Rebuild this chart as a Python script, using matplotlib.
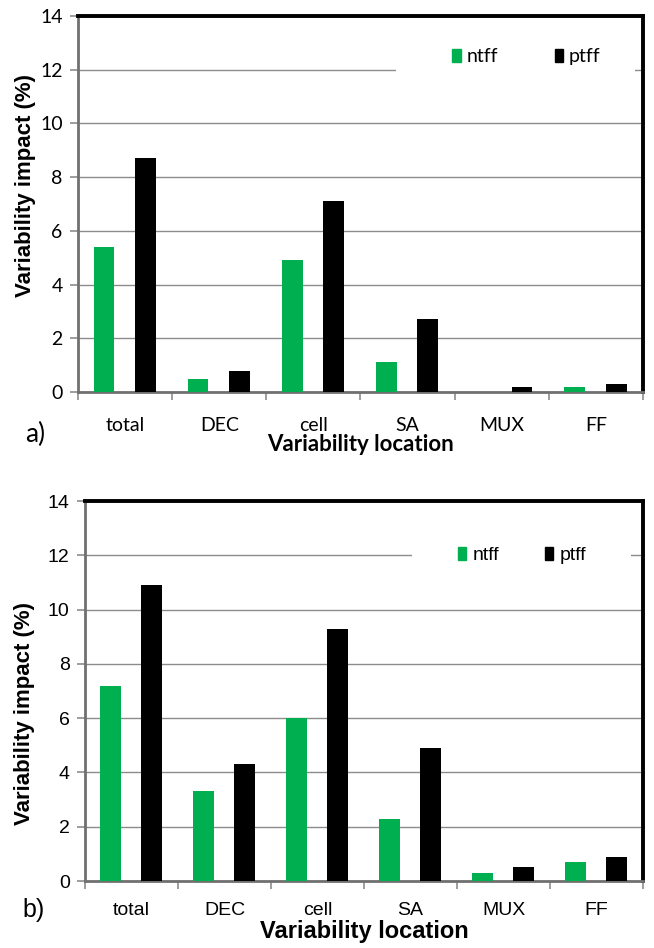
import numpy as np
import matplotlib
matplotlib.use("Agg")
import matplotlib.pyplot as plt
from matplotlib.patches import Patch, Rectangle

# data
categories = ["total", "DEC", "cell", "SA", "MUX", "FF"]
ntff_a = [5.4, 0.5, 4.9, 1.1, 0.0, 0.2]
ptff_a = [8.7, 0.8, 7.1, 2.7, 0.2, 0.3]
ntff_b = [7.2, 3.3, 6.0, 2.3, 0.3, 0.7]
ptff_b = [10.9, 4.3, 9.3, 4.9, 0.5, 0.9]
yticks = [0, 2, 4, 6, 8, 10, 12, 14]

GREEN = "#00b050"
GRID = "#8c8c8c"


def draw_panel(ax, ntff, ptff, font, tag, tick_fs, ylab_fs, xlab_fs, ylab_xy,
               xlab_pad, tick_pad, leg_xy, colspace, mask, tag_xy, tag_fs):
    x = np.arange(len(categories))
    w = 0.22
    ax.bar(x - 0.225, ntff, w, color=GREEN, label="ntff", zorder=3)
    ax.bar(x + 0.215, ptff, w, color="black", label="ptff", zorder=3)

    ax.set_xlim(-0.5, len(categories) - 0.5)
    ax.set_ylim(0, 14)
    ax.set_yticks(yticks)
    ax.set_yticklabels([str(v) for v in yticks], family=font, fontsize=tick_fs)
    ax.yaxis.grid(True, color=GRID, linewidth=1.0, zorder=0)
    ax.set_axisbelow(True)

    # category labels centred, ticks at the boundaries
    ax.set_xticks(x)
    ax.set_xticklabels(categories, family=font, fontsize=tick_fs)
    ax.tick_params(axis="x", length=0, pad=tick_pad)
    ax.set_xticks(np.arange(len(categories) + 1) - 0.5, minor=True)
    ax.tick_params(axis="x", which="minor", length=6, color=GRID, width=1.2)
    ax.tick_params(axis="y", length=6, color=GRID, width=1.2, pad=5)

    for s in ["left", "bottom"]:
        ax.spines[s].set_color("#707070")
        ax.spines[s].set_linewidth(2.0)
    for s in ["top", "right"]:
        ax.spines[s].set_color("black")
        ax.spines[s].set_linewidth(2.8)

    ax.set_ylabel("Variability impact (%)", family="Liberation Sans",
                  fontweight="bold", fontsize=ylab_fs)
    ax.yaxis.set_label_coords(*ylab_xy)
    ax.set_xlabel("Variability location", family=font,
                  fontweight="bold", fontsize=xlab_fs, labelpad=xlab_pad)

    # white box behind the legend hides part of the 12 gridline
    ax.add_patch(Rectangle((mask[0], mask[2]), mask[1] - mask[0], mask[3] - mask[2],
                           transform=ax.transAxes, facecolor="white",
                           edgecolor="none", zorder=1))

    handles = [Patch(color=GREEN), Patch(color="black")]
    leg = ax.legend(handles, ["ntff", "ptff"], loc="center left", bbox_to_anchor=leg_xy,
                    ncol=2, frameon=False, prop={"family": font, "size": tick_fs},
                    handlelength=0.45, handleheight=0.6, handletextpad=0.3,
                    columnspacing=colspace, borderpad=0, borderaxespad=0)
    leg.set_zorder(5)

    ax.figure.text(tag_xy[0], tag_xy[1], tag, family=font, fontsize=tag_fs,
                   ha="left", va="center")


fig = plt.figure(figsize=(6.54, 9.48), dpi=100)

ax_a = fig.add_axes([78 / 654, 1 - 392 / 948, (643 - 78) / 654, (392 - 16) / 948])
draw_panel(ax_a, ntff_a, ptff_a, "Lato", "a)", 14, 16, 16, (-0.075, 0.55), 0, 18,
           (0.662, 0.891), 2.9, (0.563, 0.986, 0.835, 0.923),
           (25 / 654, 1 - 434 / 948), 19)

ax_b = fig.add_axes([85 / 654, 1 - 881 / 948, (643 - 85) / 654, (881 - 501) / 948])
draw_panel(ax_b, ntff_b, ptff_b, "Liberation Sans", "b)", 14, 16, 17, (-0.09, 0.44), 1, 15,
           (0.668, 0.856), 2.35, (0.586, 0.978, 0.813, 0.897),
           (22 / 654, 1 - 910 / 948), 18)

fig.savefig("out.png", dpi=100)
